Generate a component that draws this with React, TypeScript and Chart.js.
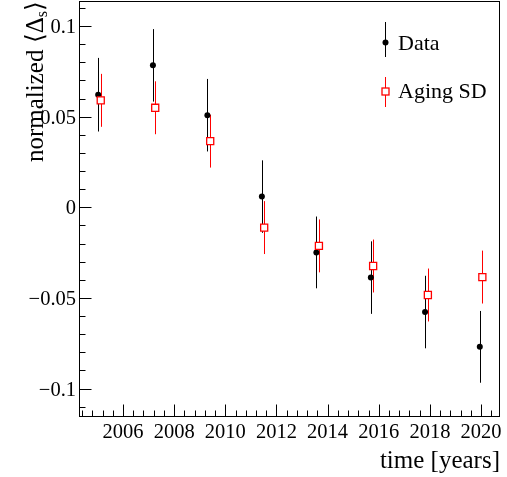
import React, { useEffect, useRef } from "react";
import { Chart, registerables } from "chart.js";

Chart.register(...registerables);

// ---- data ----
const dataYears = [2005.03, 2007.17, 2009.3, 2011.43, 2013.56, 2015.69, 2017.81, 2019.95];
const dataValues = [0.0621, 0.0783, 0.0508, 0.0059, -0.0249, -0.0388, -0.0578, -0.077];
const dataErrors = [0.0203, 0.02, 0.02, 0.02, 0.0198, 0.02, 0.02, 0.0198];

const agingYears = [2005.13, 2007.26, 2009.41, 2011.52, 2013.66, 2015.78, 2017.92, 2020.05];
const agingValues = [0.059, 0.0549, 0.0365, -0.0112, -0.0213, -0.0324, -0.0484, -0.0385];
const agingErrors = [0.0146, 0.0146, 0.0146, 0.0146, 0.0146, 0.0146, 0.0146, 0.0146];

const legendLabels = ["Data", "Aging SD"];
const xTitle = "time [years]";
const yTitleMain = "normalized \u27E8\u0394";
const yTitleSub = "s";
const yTitleEnd = "\u27E9";

const xMin = 2004.28;
const xMax = 2020.74;
const yMin = -0.1157;
const yMax = 0.1138;
const xMajorStep = 2;
const xMinorStep = 0.4;
const yMajorStep = 0.05;
const yMinorStep = 0.01;

const SERIF = '"Liberation Serif", "Times New Roman", Times, serif';
const RED = "#ff0000";
const TICK_FONT = 20.5;

function fmtY(v: number): string {
  const r = Math.round(v * 100) / 100;
  if (r === 0) return "0";
  return String(r).replace("-", "\u2212");
}

function fmtX(v: number): string {
  return String(Math.round(v));
}

const rootStyle = {
  id: "rootStyle",
  beforeDatasetsDraw(chart: any) {
    const ctx = chart.ctx;
    const xs = chart.scales.x;
    const ys = chart.scales.y;
    const bars = (xv: number[], yv: number[], ev: number[], color: string) => {
      ctx.save();
      ctx.strokeStyle = color;
      ctx.lineWidth = 1;
      for (let i = 0; i < xv.length; i++) {
        const px = Math.round(xs.getPixelForValue(xv[i])) + 0.5;
        const p1 = ys.getPixelForValue(yv[i] + ev[i]);
        const p2 = ys.getPixelForValue(yv[i] - ev[i]);
        ctx.beginPath();
        ctx.moveTo(px, p1);
        ctx.lineTo(px, p2);
        ctx.stroke();
      }
      ctx.restore();
    };
    bars(dataYears, dataValues, dataErrors, "#000");
    bars(agingYears, agingValues, agingErrors, RED);
  },
  afterDraw(chart: any) {
    const ctx = chart.ctx;
    const a = chart.chartArea;
    const xs = chart.scales.x;
    const ys = chart.scales.y;
    const L = Math.round(a.left) + 0.5;
    const R = Math.round(a.right) - 0.5;
    const T = Math.round(a.top) + 0.5;
    const B = Math.round(a.bottom) - 0.5;
    ctx.save();
    ctx.strokeStyle = "#000";
    ctx.lineWidth = 1;
    ctx.strokeRect(L, T, R - L, B - T);
    // y ticks (inward)
    ctx.beginPath();
    for (let v = Math.ceil(yMin / yMinorStep) * yMinorStep; v <= yMax + 1e-9; v += yMinorStep) {
      const r = Math.round(v / yMinorStep);
      const major = r % 5 === 0;
      const py = Math.round(ys.getPixelForValue(r * yMinorStep)) + 0.5;
      ctx.moveTo(L, py);
      ctx.lineTo(L + (major ? 12 : 6), py);
    }
    // x ticks (inward)
    for (let v = Math.ceil(xMin / xMinorStep) * xMinorStep; v <= xMax + 1e-9; v += xMinorStep) {
      const r = Math.round(v / xMinorStep);
      const major = r % 5 === 0;
      const px = Math.round(xs.getPixelForValue(r * xMinorStep)) + 0.5;
      ctx.moveTo(px, B);
      ctx.lineTo(px, B - (major ? 12 : 6));
    }
    ctx.stroke();

    // tick labels from the scales' generated ticks
    ctx.fillStyle = "#000";
    ctx.font = `${TICK_FONT}px ${SERIF}`;
    ctx.textBaseline = "alphabetic";
    ctx.textAlign = "right";
    for (const t of ys.ticks) {
      const py = ys.getPixelForValue(t.value);
      ctx.fillText(fmtY(t.value), a.left - 3, py + 7);
    }
    ctx.textAlign = "center";
    for (const t of xs.ticks) {
      const px = xs.getPixelForValue(t.value);
      ctx.fillText(fmtX(t.value), px, a.bottom + 21);
    }

    // x title
    ctx.font = `25px ${SERIF}`;
    ctx.textAlign = "right";
    ctx.fillText(xTitle, a.right, 468);

    // y title (rotated, right aligned to top)
    ctx.save();
    ctx.translate(43, a.top);
    ctx.rotate(-Math.PI / 2);
    ctx.textAlign = "left";
    const mainFont = `25px ${SERIF}`;
    const subFont = `16px ${SERIF}`;
    ctx.font = mainFont;
    const w1 = ctx.measureText(yTitleMain).width;
    const w3 = ctx.measureText(yTitleEnd).width;
    ctx.font = subFont;
    const w2 = ctx.measureText(yTitleSub).width;
    let xpos = -(w1 + w2 + w3);
    ctx.font = mainFont;
    ctx.fillText(yTitleMain, xpos, 0);
    xpos += w1;
    ctx.font = subFont;
    ctx.fillText(yTitleSub, xpos, 4);
    xpos += w2;
    ctx.font = mainFont;
    ctx.fillText(yTitleEnd, xpos, 0);
    ctx.restore();

    // legend
    const lx = 385.5;
    ctx.lineWidth = 1;
    ctx.strokeStyle = "#000";
    ctx.beginPath();
    ctx.moveTo(lx, 22);
    ctx.lineTo(lx, 57);
    ctx.stroke();
    ctx.fillStyle = "#000";
    ctx.beginPath();
    ctx.arc(lx, 42.5, 3, 0, Math.PI * 2);
    ctx.fill();
    ctx.strokeStyle = RED;
    ctx.beginPath();
    ctx.moveTo(lx, 77);
    ctx.lineTo(lx, 107);
    ctx.stroke();
    ctx.fillStyle = "#fff";
    ctx.fillRect(lx - 3.5, 88, 7, 7);
    ctx.lineWidth = 1.3;
    ctx.strokeRect(lx - 3.5, 88, 7, 7);
    ctx.fillStyle = "#000";
    ctx.font = `22px ${SERIF}`;
    ctx.textAlign = "left";
    ctx.fillText(legendLabels[0], 398, 50);
    ctx.fillText(legendLabels[1], 398, 98);
    ctx.restore();
  },
};

export default function App() {
  const ref = useRef<HTMLCanvasElement | null>(null);
  useEffect(() => {
    if (!ref.current) return;
    const chart = new Chart(ref.current, {
      type: "scatter",
      data: {
        datasets: [
          {
            label: legendLabels[1],
            data: agingYears.map((x, i) => ({ x, y: agingValues[i] })),
            pointStyle: "rect",
            pointRadius: 5,
            pointBackgroundColor: "#fff",
            pointBorderColor: RED,
            pointBorderWidth: 1.3,
            showLine: false,
          },
          {
            label: legendLabels[0],
            data: dataYears.map((x, i) => ({ x, y: dataValues[i] })),
            pointStyle: "circle",
            pointRadius: 3,
            pointBackgroundColor: "#000",
            pointBorderColor: "#000",
            pointBorderWidth: 0,
            showLine: false,
          },
        ],
      },
      options: {
        responsive: false,
        animation: false,
        events: [],
        layout: { autoPadding: false, padding: { top: 1, right: 7, left: 0, bottom: 0 } },
        plugins: { legend: { display: false }, tooltip: { enabled: false }, title: { display: false } },
        scales: {
          x: {
            type: "linear",
            position: "bottom",
            min: xMin,
            max: xMax,
            grid: { display: false, drawTicks: false, tickLength: 0 },
            border: { display: false },
            ticks: {
              display: false,
              stepSize: xMajorStep,
              includeBounds: false,
              autoSkip: false,
            },
            afterFit: (s: any) => {
              s.height = 60;
            },
          },
          y: {
            type: "linear",
            position: "left",
            min: yMin,
            max: yMax,
            grid: { display: false, drawTicks: false, tickLength: 0 },
            border: { display: false },
            ticks: {
              display: false,
              stepSize: yMajorStep,
              includeBounds: false,
              autoSkip: false,
            },
            afterFit: (s: any) => {
              s.width = 79;
            },
          },
        },
      },
      plugins: [rootStyle],
    } as any);
    return () => chart.destroy();
  }, []);
  return (
    <div style={{ position: "absolute", left: 0, top: 0, width: 507, height: 477, background: "#fff" }}>
      <canvas ref={ref} width={507} height={477} style={{ display: "block" }} />
    </div>
  );
}
